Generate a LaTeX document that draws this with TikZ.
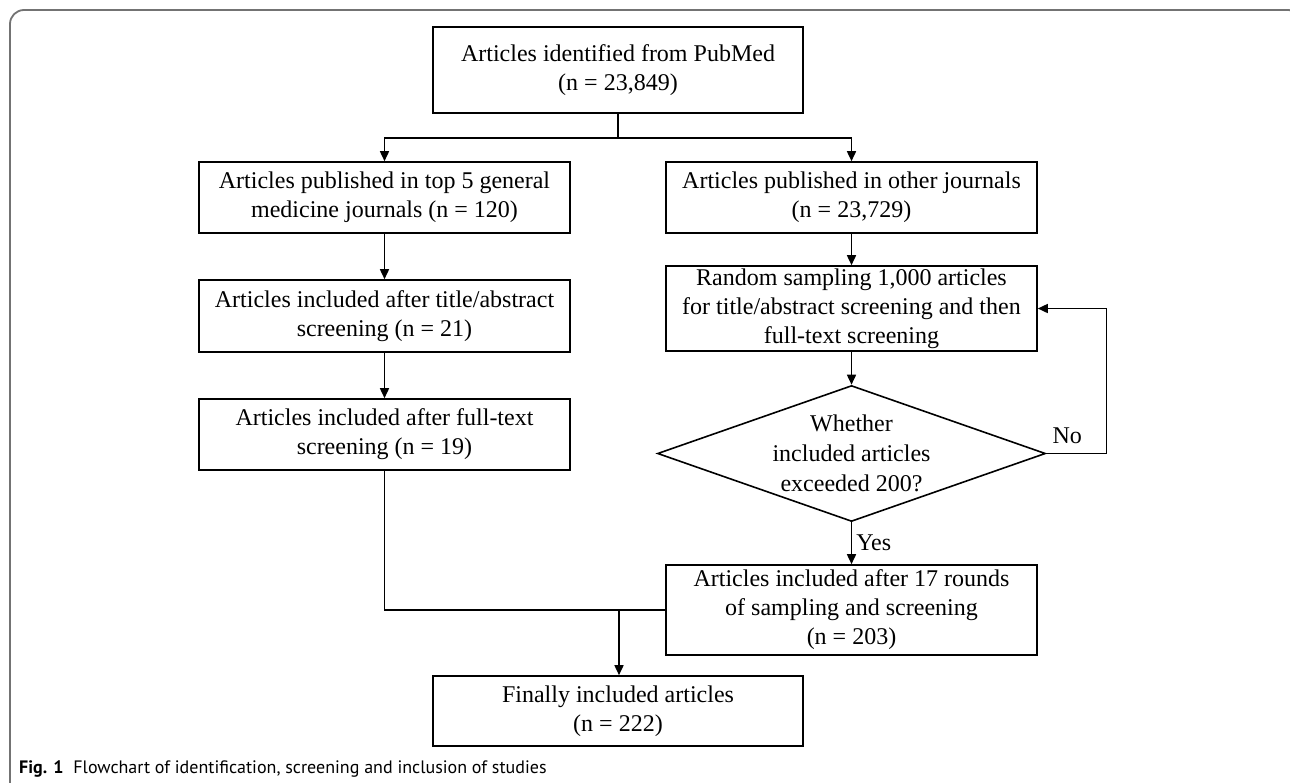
\documentclass[tikz,border=0pt]{standalone}
\usepackage{fontspec}
\setmainfont{Liberation Serif}
\newfontfamily\captionfont{PT Sans}
\usetikzlibrary{shapes.geometric, arrows.meta, positioning}

\begin{document}
\begin{tikzpicture}[x=1pt, y=-1pt,
        box/.style={draw, line width=1.6pt, align=center, inner sep=0pt,
            minimum width=371pt, minimum height=71pt, font=\fontsize{24}{29}\selectfont},
        decision/.style={draw, diamond, line width=1.6pt, align=center, inner sep=0pt,
            shape aspect=2.9, minimum width=388pt, minimum height=136pt, font=\fontsize{24}{30}\selectfont},
        tag/.style={font=\fontsize{24}{29}\selectfont, inner sep=0pt},
        flow/.style={line width=1.6pt, -{Triangle[length=10pt, width=9pt]}},
        link/.style={line width=1.6pt}]
    \useasboundingbox (0,0) rectangle (1290,782);
    \draw[line width=1.8pt, color=black!55, rounded corners=14pt] (10,800) -- (10,10) -- (1302,10) -- (1302,800);

    \node[box, minimum width=370pt, minimum height=86pt] (pubmed) at (618,70) {Articles identified from PubMed\\(n = 23,849)};
    \node[box] (topfive) at (384.5,197.5) {Articles published in top 5 general\\medicine journals (n = 120)};
    \node[box, minimum height=72pt] (titleabs) at (384.5,316) {Articles included after title/abstract\\screening (n = 21)};
    \node[box] (fulltext) at (384.5,434.5) {Articles included after full-text\\screening (n = 19)};
    \node[box] (other) at (851.5,197.5) {Articles published in other journals\\(n = 23,729)};
    \node[box, minimum height=85pt] (sampling) at (851.5,308.5) {Random sampling 1,000 articles\\for title/abstract screening and then\\full-text screening};
    \node[decision] (decide) at (851.5,453.5) {Whether\\included articles\\exceeded 200?};
    \node[box, minimum height=90pt] (rounds) at (851.5,610) {Articles included after 17 rounds\\of sampling and screening\\(n = 203)};
    \node[box, minimum width=370pt, minimum height=70pt] (final) at (618,711) {Finally included articles\\(n = 222)};
    \node[anchor=base west, inner sep=0pt, font=\captionfont\fontsize{18}{22}\selectfont] (caption) at (19,773)
        {\textbf{Fig. 1}\hspace{0.55em}Flowchart of identification, screening and inclusion of studies};

    \coordinate (split) at (618,138);
    \coordinate (merge) at (619,610);
    \draw[link] (pubmed) -- (split);
    \draw[flow] (split) -| (topfive);
    \draw[flow] (split) -| (other);
    \draw[flow] (topfive) -- (titleabs);
    \draw[flow] (titleabs) -- (fulltext);
    \draw[flow] (other) -- (sampling);
    \draw[flow] (sampling) -- (decide);
    \draw[flow] (decide) -- node[tag, right=4pt] (yes) {Yes} (rounds);
    \draw[flow] (decide.east) -- node[tag, pos=0.35, above=9pt] (no) {No} ++(60,0) |- (sampling.east);
    \draw[link] (fulltext) |- (rounds);
    \draw[flow] (merge) -- (merge |- final.north);
\end{tikzpicture}
\end{document}
